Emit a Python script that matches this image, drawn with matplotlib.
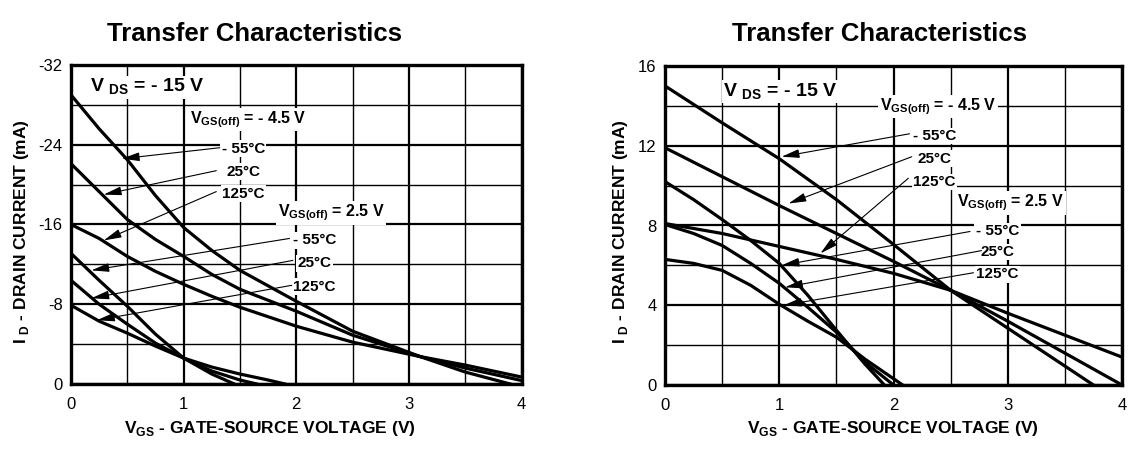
import matplotlib.pyplot as plt

plt.rcParams['font.family'] = 'Liberation Sans'
plt.rcParams['mathtext.fontset'] = 'custom'
plt.rcParams['mathtext.rm'] = 'Liberation Sans:bold'
plt.rcParams['mathtext.bf'] = 'Liberation Sans:bold'
plt.rcParams['axes.unicode_minus'] = False

# ---- left chart: drain current (mA, negative) vs gate-source voltage ----
# VGS(off) = -4.5 V family
vgs_l_m55_a = [0, 0.25, 0.5, 0.75, 1.0, 1.25, 1.5, 2.0, 2.5, 3.1, 3.5, 3.9]
id_l_m55_a = [-29.0, -25.6, -22.5, -18.9, -15.7, -13.4, -11.4, -8.3, -5.3, -2.75, -1.2, 0]
vgs_l_25_a = [0, 0.25, 0.5, 0.75, 1.0, 1.25, 1.5, 2.0, 2.5, 3.1, 3.5, 4.0]
id_l_25_a = [-22.1, -19.3, -16.5, -14.5, -12.8, -11.0, -9.5, -7.3, -4.9, -2.75, -1.6, -0.35]
vgs_l_125_a = [0, 0.25, 0.5, 0.75, 1.0, 1.25, 1.5, 2.0, 2.5, 3.1, 3.5, 4.0]
id_l_125_a = [-16.0, -14.6, -12.8, -11.3, -10.0, -8.8, -7.7, -5.8, -4.2, -2.75, -1.9, -0.7]
# VGS(off) = 2.5 V family
vgs_l_m55_b = [0, 0.25, 0.5, 0.75, 1.0, 1.25, 1.45]
id_l_m55_b = [-13.1, -10.4, -7.8, -5.0, -2.6, -1.0, 0]
vgs_l_25_b = [0, 0.25, 0.5, 0.75, 1.0, 1.25, 1.5, 1.65]
id_l_25_b = [-10.4, -8.0, -6.0, -4.1, -2.6, -1.3, -0.4, 0]
vgs_l_125_b = [0, 0.25, 0.5, 0.75, 1.0, 1.25, 1.5, 1.75, 1.9]
id_l_125_b = [-7.9, -6.3, -5.1, -3.8, -2.6, -1.7, -1.0, -0.4, 0]

# ---- right chart: drain current (mA) vs gate-source voltage ----
vgs_r_m55_a = [0, 0.5, 1.0, 1.5, 2.0, 2.5, 3.0, 3.5, 3.75]
id_r_m55_a = [15.0, 13.15, 11.35, 9.3, 7.05, 4.75, 2.85, 0.95, 0]
vgs_r_25_a = [0, 1.0, 2.0, 2.5, 3.0, 3.5, 4.0]
id_r_25_a = [11.9, 9.0, 6.2, 4.75, 3.2, 1.6, 0]
vgs_r_125_a = [0, 0.5, 1.0, 1.5, 2.0, 2.5, 3.0, 3.5, 4.0]
id_r_125_a = [8.1, 7.6, 6.95, 6.3, 5.6, 4.75, 3.6, 2.5, 1.4]
vgs_r_m55_b = [0, 0.25, 0.5, 0.75, 1.0, 1.25, 1.5, 1.75, 1.92]
id_r_m55_b = [10.2, 9.3, 8.3, 7.25, 6.1, 4.5, 2.75, 1.05, 0]
vgs_r_25_b = [0, 0.25, 0.5, 0.75, 1.0, 1.25, 1.5, 1.75, 2.0]
id_r_25_b = [8.05, 7.6, 7.0, 6.1, 5.1, 3.9, 2.65, 1.15, 0]
vgs_r_125_b = [0, 0.25, 0.5, 0.75, 1.0, 1.25, 1.5, 1.75, 2.08]
id_r_125_b = [6.3, 6.1, 5.75, 5.0, 4.05, 3.2, 2.4, 1.3, 0]

x_ticks = [0, 1, 2, 3, 4]
y_ticks_l = [0, -8, -16, -24, -32]
y_ticks_r = [0, 4, 8, 12, 16]

temps = ['- 55°C', '25°C', '125°C']

fig = plt.figure(figsize=(11.46, 4.69), dpi=100)
ax1 = fig.add_axes([71 / 1146, 1 - 384 / 469, 450.5 / 1146, 319 / 469])
ax2 = fig.add_axes([665 / 1146, 1 - 385 / 469, 457 / 1146, 319 / 469])


def setup(ax, ylim, yticks, yminor):
    ax.set_xlim(0, 4)
    ax.set_ylim(*ylim)
    ax.set_xticks(x_ticks)
    ax.set_xticks([0.5, 1.5, 2.5, 3.5], minor=True)
    ax.set_yticks(yticks)
    ax.set_yticks(yminor, minor=True)
    ax.grid(which='major', color='black', lw=1.6)
    ax.grid(which='minor', color='black', lw=1.0)
    ax.tick_params(which='both', length=0, labelsize=12)
    ax.tick_params(axis='x', pad=9)
    ax.tick_params(axis='y', pad=6)
    for s in ax.spines.values():
        s.set_linewidth(2.4)


setup(ax1, (0, -32), y_ticks_l, [-4, -12, -20, -28])
setup(ax2, (0, 16), y_ticks_r, [2, 6, 10, 14])

curve = dict(color='black', lw=2.3, solid_joinstyle='round')
ax1.plot(vgs_l_m55_a, id_l_m55_a, **curve)
ax1.plot(vgs_l_25_a, id_l_25_a, **curve)
ax1.plot(vgs_l_125_a, id_l_125_a, **curve)
ax1.plot(vgs_l_m55_b, id_l_m55_b, **curve)
ax1.plot(vgs_l_25_b, id_l_25_b, **curve)
ax1.plot(vgs_l_125_b, id_l_125_b, **curve)

ax2.plot(vgs_r_m55_a, id_r_m55_a, **curve)
ax2.plot(vgs_r_25_a, id_r_25_a, **curve)
ax2.plot(vgs_r_125_a, id_r_125_a, **curve)
ax2.plot(vgs_r_m55_b, id_r_m55_b, **curve)
ax2.plot(vgs_r_25_b, id_r_25_b, **curve)
ax2.plot(vgs_r_125_b, id_r_125_b, **curve)

box = dict(fc='white', ec='none', pad=1.0)
arrow = dict(arrowstyle='-|>,head_length=0.9,head_width=0.22', color='black',
             lw=0.8, shrinkA=0, shrinkB=0, mutation_scale=12)


def label(ax, x, y, s, size=11, ha='center'):
    ax.text(x, y, s, ha=ha, va='baseline', fontsize=size, fontweight='bold',
            bbox=box, zorder=5)


def pointer(ax, tail, tip):
    ax.annotate('', xy=tip, xytext=tail, arrowprops=arrow, zorder=6)


# left chart labels
label(ax1, 0.17, -29.3, r'V $_{\mathbf{DS}}$ = - 15 V', size=14, ha='left')
label(ax1, 1.055, -26.15, r'V$_{\mathbf{GS(off)}}$ = - 4.5 V', size=11.5, ha='left')
label(ax1, 1.836, -16.8, r'V$_{\mathbf{GS(off)}}$ = 2.5 V', size=11.5, ha='left')
for t, y in zip(temps, [-23.2, -20.9, -18.7]):
    label(ax1, 1.53, y, t)
for t, y in zip(temps, [-14.0, -11.7, -9.36]):
    label(ax1, 2.16, y, t)
pointer(ax1, (1.32, -23.7), (0.45, -22.6))
pointer(ax1, (1.29, -21.4), (0.29, -19.0))
pointer(ax1, (1.29, -19.3), (0.29, -14.4))
pointer(ax1, (1.94, -14.6), (0.18, -11.4))
pointer(ax1, (1.97, -12.4), (0.18, -8.6))
pointer(ax1, (1.96, -9.9), (0.23, -6.4))

# right chart labels
label(ax2, 0.51, 14.46, r'V $_{\mathbf{DS}}$ = - 15 V', size=14, ha='left')
label(ax2, 1.88, 13.8, r'V$_{\mathbf{GS(off)}}$ = - 4.5 V', size=11.5, ha='left')
label(ax2, 2.56, 8.94, r'V$_{\mathbf{GS(off)}}$ = 2.5 V', size=11.5, ha='left')
for t, y in zip(temps, [12.29, 11.15, 9.98]):
    label(ax2, 2.36, y, t)
for t, y in zip(temps, [7.52, 6.47, 5.35]):
    label(ax2, 2.91, y, t)
pointer(ax2, (2.14, 12.6), (1.02, 11.45))
pointer(ax2, (2.16, 11.45), (1.08, 9.1))
pointer(ax2, (2.13, 10.37), (1.36, 6.6))
pointer(ax2, (2.67, 7.7), (1.02, 6.0))
pointer(ax2, (2.77, 6.74), (1.05, 4.9))
pointer(ax2, (2.70, 5.63), (1.04, 4.0))

# titles and axis labels
fig.text(254.5 / 1146, 1 - 40.7 / 469, 'Transfer Characteristics', ha='center',
         va='baseline', fontsize=18.5, fontweight='bold')
fig.text(879 / 1146, 1 - 40.7 / 469, 'Transfer Characteristics', ha='center',
         va='baseline', fontsize=18.5, fontweight='bold')
xlab = r'V$_{\mathbf{GS}}$ - GATE-SOURCE VOLTAGE (V)'
fig.text(270 / 1146, 1 - 433 / 469, xlab, ha='center', va='baseline',
         fontsize=12.5, fontweight='bold')
fig.text(893 / 1146, 1 - 433 / 469, xlab, ha='center', va='baseline',
         fontsize=12.5, fontweight='bold')
ylab = r'I $_{\mathbf{D}}$ - DRAIN CURRENT (mA)'
fig.text(22 / 1146, 1 - 232 / 469, ylab, ha='center', va='center',
         rotation=90, fontsize=12.5, fontweight='bold')
fig.text(620 / 1146, 1 - 232 / 469, ylab, ha='center', va='center',
         rotation=90, fontsize=12.5, fontweight='bold')

fig.savefig('out.png', dpi=100)
